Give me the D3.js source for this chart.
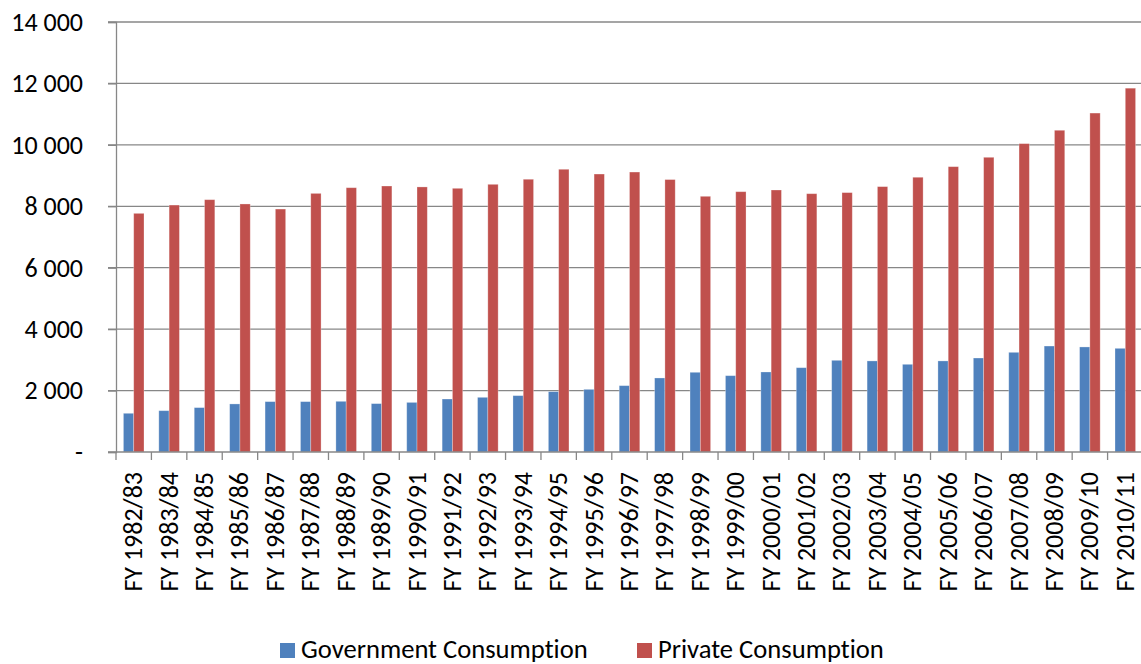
<!DOCTYPE html>
<html>
<head>
<meta charset="utf-8">
<script src="https://cdn.jsdelivr.net/npm/d3@7"></script>
<style>
  html, body { margin: 0; padding: 0; background: #fff; overflow: hidden; }
  svg { display: block; }
  text { font-family: Carlito, Calibri, Lato, "Open Sans", sans-serif; fill: #000; font-variant-ligatures: none; font-feature-settings: "liga" 0, "clig" 0; }
</style>
</head>
<body>
<svg id="chart" width="1141" height="664"></svg>
<script>
const categories = ["FY 1982/83","FY 1983/84","FY 1984/85","FY 1985/86","FY 1986/87","FY 1987/88","FY 1988/89","FY 1989/90","FY 1990/91","FY 1991/92","FY 1992/93","FY 1993/94","FY 1994/95","FY 1995/96","FY 1996/97","FY 1997/98","FY 1998/99","FY 1999/00","FY 2000/01","FY 2001/02","FY 2002/03","FY 2003/04","FY 2004/05","FY 2005/06","FY 2006/07","FY 2007/08","FY 2008/09","FY 2009/10","FY 2010/11"];
const government = [1260,1345,1445,1565,1640,1640,1650,1575,1615,1725,1780,1835,1965,2040,2160,2410,2595,2485,2605,2745,2985,2965,2855,2965,3060,3245,3450,3420,3375];
const privateC = [7770,8040,8215,8075,7910,8420,8605,8660,8630,8585,8715,8880,9205,9050,9115,8870,8325,8475,8530,8410,8445,8640,8945,9290,9595,10040,10475,11035,11845];
const seriesNames = ["Government Consumption","Private Consumption"];
const seriesColors = ["#4F81BD","#C0504D"];
const yTicks = [0,2000,4000,6000,8000,10000,12000,14000];

const svg = d3.select("#chart");
const mLeft = 116, mRight = 1143, mTop = 22, mBottom = 452;
const fontSize = 26;

const x0 = d3.scaleBand().domain(categories).range([mLeft, mRight]).paddingInner(0).paddingOuter(0);
const x1 = d3.scaleBand().domain(seriesNames).range([0, x0.bandwidth()]).paddingInner(0).paddingOuter(0.72);
const y = d3.scaleLinear().domain([0, 14000]).range([mBottom, mTop]);

const gridColor = "#878787";

svg.append("g").selectAll("line").data(yTicks.filter(d => d > 0)).join("line")
  .attr("x1", mLeft - 8).attr("x2", mRight)
  .attr("y1", d => y(d)).attr("y2", d => y(d))
  .attr("stroke", gridColor).attr("stroke-width", 1.3);

const yAxis = d3.axisLeft(y).tickValues(yTicks).tickSize(8).tickPadding(25)
  .tickFormat(d => d === 0 ? "-" : d3.format(",")(d).replace(/,/g, " "));
const gy = svg.append("g").attr("transform", `translate(${mLeft},0)`).call(yAxis);
gy.select(".domain").attr("stroke", gridColor).attr("stroke-width", 1.3);
gy.selectAll(".tick line").attr("stroke", gridColor).attr("stroke-width", 1.3);
gy.selectAll(".tick text").style("font-size", fontSize + "px").attr("fill", "#000");

const data = categories.map((c, i) => ({ c, vals: [government[i], privateC[i]] }));
const groups = svg.append("g").selectAll("g").data(data).join("g")
  .attr("transform", d => `translate(${x0(d.c)},0)`);
groups.selectAll("rect").data(d => d.vals.map((v, j) => ({ name: seriesNames[j], v, j }))).join("rect")
  .attr("x", d => x1(d.name))
  .attr("width", x1.bandwidth())
  .attr("y", d => y(d.v))
  .attr("height", d => y(0) - y(d.v))
  .attr("fill", d => seriesColors[d.j])
  .attr("stroke", "rgba(255,255,255,0.35)")
  .attr("stroke-width", 0.8);

const xTickPositions = d3.range(categories.length + 1).map(i => mLeft + i * x0.step());
svg.append("line").attr("x1", mLeft - 8).attr("x2", mRight).attr("y1", mBottom).attr("y2", mBottom)
  .attr("stroke", gridColor).attr("stroke-width", 1.3);
svg.append("g").selectAll("line").data(xTickPositions).join("line")
  .attr("x1", d => d).attr("x2", d => d).attr("y1", mBottom).attr("y2", mBottom + 8)
  .attr("stroke", gridColor).attr("stroke-width", 1.3);

svg.append("g").selectAll("text").data(categories).join("text")
  .attr("transform", d => `translate(${x0(d) + x0.bandwidth() / 2 + 8.5},${mBottom + 20}) rotate(-90)`)
  .attr("text-anchor", "end")
  .style("font-size", fontSize + "px")
  .text(d => d);

const legend = svg.append("g");
const legendItems = [{ name: seriesNames[0], x: 280 }, { name: seriesNames[1], x: 637 }];
legendItems.forEach((it, i) => {
  legend.append("rect").attr("x", it.x).attr("y", 643).attr("width", 15).attr("height", 15).attr("fill", seriesColors[i]);
  legend.append("text").attr("x", it.x + 21).attr("y", 658).style("font-size", "26.6px").text(it.name);
});
</script>
</body>
</html>
